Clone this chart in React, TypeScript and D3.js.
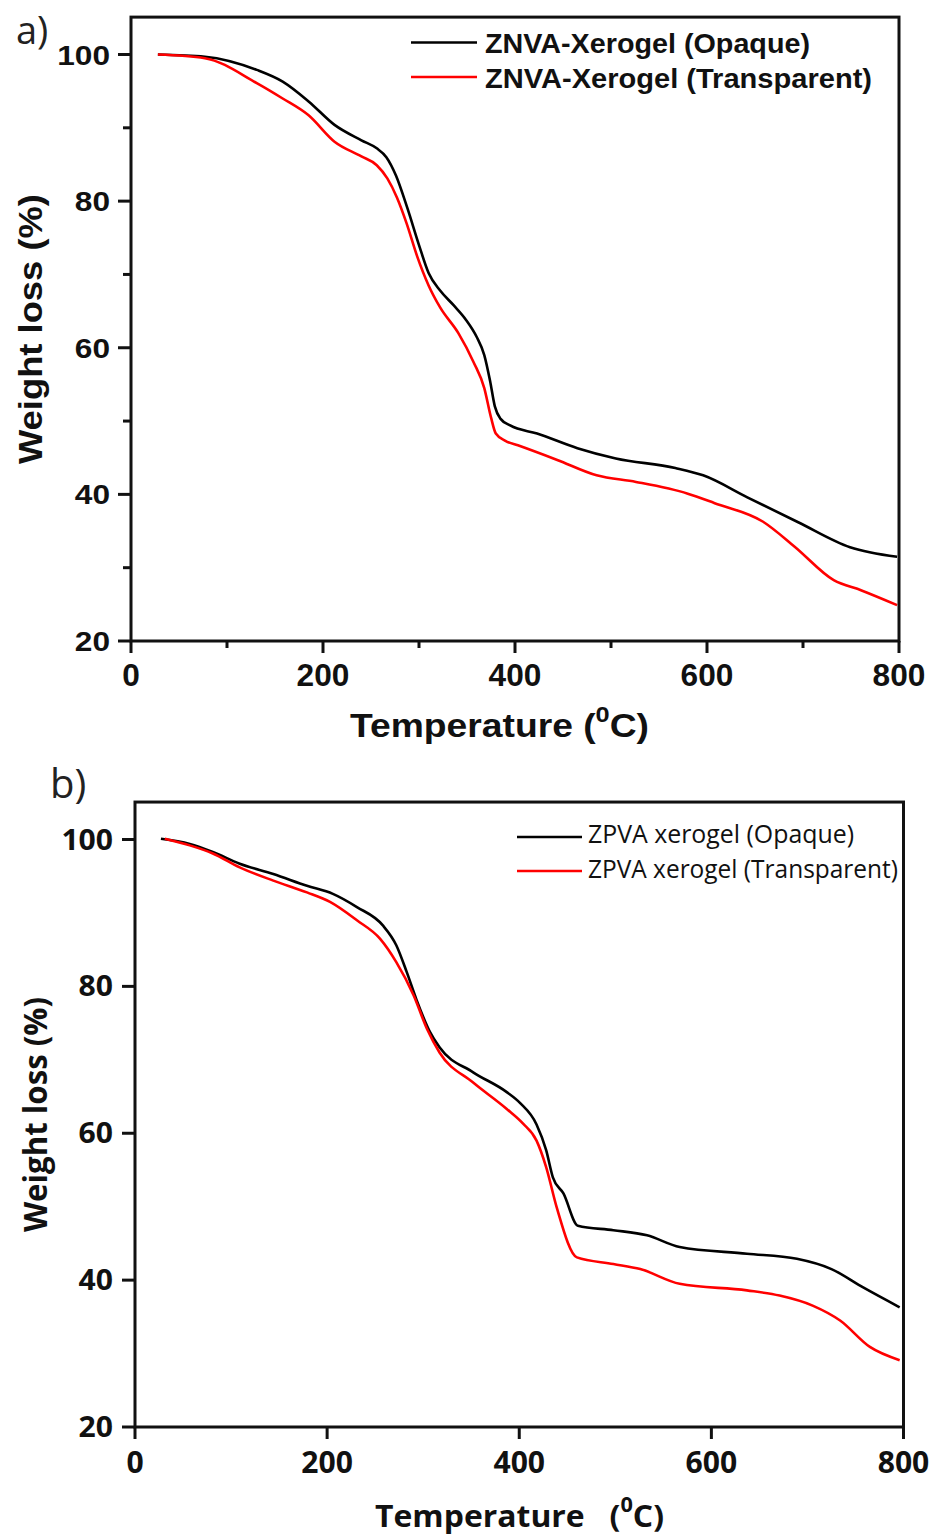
import React from "react";
import * as d3 from "d3";

// ---------- data (Temperature °C, Weight %) ----------
const aOpaque: [number, number][] = [
  [28, 100], [77, 99.7], [131, 97.9], [158, 96.3], [185, 93.6], [212, 90.4], [240, 88.3],
  [256, 87.2], [266, 86.0], [276, 83.5], [288, 79.0], [300, 74.0], [310, 70.2], [322, 67.8],
  [336, 65.8], [349, 63.8], [360, 61.5], [368, 59.0], [374, 55.5], [379, 52.0], [385, 50.3],
  [395, 49.4], [423, 48.3], [465, 46.3], [505, 44.9], [567, 43.6], [596, 42.6], [642, 39.6],
  [695, 36.2], [749, 32.8], [798, 31.5],
];
const aTransparent: [number, number][] = [
  [28, 100], [77, 99.5], [131, 96.1], [158, 94.0], [185, 91.7], [212, 88.1], [240, 86.1],
  [256, 84.9], [267, 83.1], [277, 80.5], [287, 77.0], [298, 72.5], [310, 68.5], [322, 65.5],
  [341, 62.0], [357, 58.0], [368, 54.5], [375, 50.5], [380, 48.3], [390, 47.3], [403, 46.7],
  [444, 44.7], [485, 42.6], [526, 41.7], [580, 40.1], [608, 38.8], [658, 36.3], [691, 32.9],
  [732, 28.3], [761, 26.9], [798, 24.9],
];
const bOpaque: [number, number][] = [
  [27, 100.1], [57, 99.4], [81, 98.3], [109, 96.7], [144, 95.3], [179, 93.7], [206, 92.6],
  [231, 90.8], [258, 88.3], [272, 85.6], [283, 81.9], [293, 78.2], [307, 73.8], [317, 71.7],
  [352, 68.3], [387, 65.6], [401, 64.1], [418, 61.2], [428, 57.7], [435, 54.0], [446, 51.8],
  [461, 47.4], [498, 46.8], [533, 46.1], [567, 44.5], [637, 43.6], [689, 42.9], [725, 41.5],
  [758, 39.0], [796, 36.3],
];
const bTransparent: [number, number][] = [
  [31, 100.1], [57, 99.2], [81, 98.1], [109, 96.2], [144, 94.4], [179, 92.8], [203, 91.5],
  [231, 89.0], [255, 86.5], [272, 83.3], [290, 78.8], [304, 74.2], [317, 71.0], [352, 66.9],
  [387, 63.3], [404, 61.3], [418, 59.0], [428, 55.4], [439, 49.9], [460, 43.1], [498, 42.2],
  [526, 41.5], [567, 39.5], [637, 38.6], [671, 37.9], [706, 36.5], [734, 34.5], [765, 30.9],
  [796, 29.1],
];

const xMajorTicks = [0, 200, 400, 600, 800];
const xMinorTicksA = [100, 300, 500, 700];
const yMajorTicks = [20, 40, 60, 80, 100];
const yMinorTicksA = [30, 50, 70, 90];

const legendA = ["ZNVA-Xerogel (Opaque)", "ZNVA-Xerogel (Transparent)"];
const legendB = ["ZPVA xerogel (Opaque)", "ZPVA xerogel (Transparent)"];
const yTitle = "Weight loss (%)";
const X_DOMAIN: [number, number] = [0, 800];
const Y_DOMAIN: [number, number] = [20, 100];
const Y_TOP = 105.1;

const ARIAL = "'Liberation Sans', Arial, sans-serif";
const MYRIAD = "'Open Sans', 'Noto Sans', sans-serif";

type PanelProps = {
  letter: string;
  letterX: number;
  letterY: number;
  letterSize: number;
  xRange: [number, number];
  yRange: [number, number];
  opaque: [number, number][];
  transparent: [number, number][];
  minorX: number[];
  minorY: number[];
  font: string;
  tickSize: number;
  digitW: number;
  yLabelRight: number;
  xLabelDy: number;
  legend: string[];
  legendX1: number;
  legendX2: number;
  legendTextX: number;
  legendY: [number, number];
  legendBase: [number, number];
  legendLen: [number, number];
  legendSize: number;
  legendWeight: string | number;
  xTitleX: number;
  xTitleY: number;
  xTitleLen: number;
  xTitleSize: number;
  xTitleText: string;
  yTitleX: number;
  yTitleLen: number;
  yTitleSize: number;
};

function Panel(p: PanelProps) {
  const x = d3.scaleLinear().domain(X_DOMAIN).range(p.xRange);
  const y = d3.scaleLinear().domain(Y_DOMAIN).range(p.yRange);
  const line = d3
    .line<[number, number]>()
    .x((d) => x(d[0]))
    .y((d) => y(d[1]))
    .curve(d3.curveMonotoneX);
  const left = x(0);
  const right = x(800);
  const bottom = y(20);
  const top = y(Y_TOP);
  const yMid = (y(Y_TOP) + y(20)) / 2;
  return (
    <g>
      <text x={p.letterX} y={p.letterY} fontFamily={MYRIAD} fontSize={p.letterSize} fill="#222">
        {p.letter}
      </text>
      {/* curves */}
      <path d={line(p.opaque) || ""} fill="none" stroke="#000" strokeWidth={2.6} />
      <path d={line(p.transparent) || ""} fill="none" stroke="#ff0000" strokeWidth={2.6} />
      {/* frame */}
      <rect
        x={left}
        y={top}
        width={right - left}
        height={bottom - top}
        fill="none"
        stroke="#111"
        strokeWidth={3}
      />
      {/* x ticks */}
      {xMajorTicks.map((t) => (
        <g key={"xt" + t}>
          <line x1={x(t)} x2={x(t)} y1={bottom} y2={bottom + 12} stroke="#111" strokeWidth={3} />
          <text
            x={x(t)}
            y={bottom + p.xLabelDy}
            textAnchor="middle"
            fontFamily={p.font}
            fontWeight="bold"
            fontSize={p.tickSize + 3}
            textLength={String(t).length * p.digitW}
            lengthAdjust="spacingAndGlyphs"
            fill="#111"
          >
            {t}
          </text>
        </g>
      ))}
      {p.minorX.map((t) => (
        <line key={"xm" + t} x1={x(t)} x2={x(t)} y1={bottom} y2={bottom + 7} stroke="#111" strokeWidth={3} />
      ))}
      {/* y ticks */}
      {yMajorTicks.map((t) => (
        <g key={"yt" + t}>
          <line x1={left - 13} x2={left} y1={y(t)} y2={y(t)} stroke="#111" strokeWidth={3} />
          <text
            x={p.yLabelRight}
            y={y(t) + 10}
            textAnchor="end"
            fontFamily={p.font}
            fontWeight="bold"
            fontSize={p.tickSize}
            textLength={String(t).length * p.digitW}
            lengthAdjust="spacingAndGlyphs"
            fill="#111"
          >
            {t}
          </text>
        </g>
      ))}
      {p.minorY.map((t) => (
        <line key={"ym" + t} x1={left - 8} x2={left} y1={y(t)} y2={y(t)} stroke="#111" strokeWidth={3} />
      ))}
      {/* legend */}
      {[0, 1].map((i) => (
        <g key={"lg" + i}>
          <line
            x1={p.legendX1}
            x2={p.legendX2}
            y1={p.legendY[i]}
            y2={p.legendY[i]}
            stroke={i === 0 ? "#000" : "#ff0000"}
            strokeWidth={2.4}
          />
          <text
            x={p.legendTextX}
            y={p.legendBase[i]}
            fontFamily={p.font}
            fontWeight={p.legendWeight}
            fontSize={p.legendSize}
            textLength={p.legendLen[i]}
            lengthAdjust="spacingAndGlyphs"
            fill="#111"
          >
            {p.legend[i]}
          </text>
        </g>
      ))}
      {/* x title */}
      <text
        x={p.xTitleX}
        y={p.xTitleY}
        fontFamily={p.font}
        fontWeight="bold"
        fontSize={p.xTitleSize}
        textLength={p.xTitleLen}
        lengthAdjust="spacingAndGlyphs"
        fill="#111"
        style={{ whiteSpace: "pre" }}
      >
        {p.xTitleText}
        <tspan dy={-15} fontSize={p.xTitleSize * 0.68}>
          0
        </tspan>
        <tspan dy={15}>C)</tspan>
      </text>
      {/* y title */}
      <text
        transform={`translate(${p.yTitleX},${yMid}) rotate(-90)`}
        textAnchor="middle"
        fontFamily={p.font}
        fontWeight="bold"
        fontSize={p.yTitleSize}
        textLength={p.yTitleLen}
        lengthAdjust="spacingAndGlyphs"
        fill="#111"
      >
        {yTitle}
      </text>
    </g>
  );
}

export default function App() {
  return (
    <svg
      width={934}
      height={1538}
      viewBox="0 0 934 1538"
      style={{ position: "absolute", left: 0, top: 0, background: "#fff" }}
    >
      <rect x={0} y={0} width={934} height={1538} fill="#fff" />
      <Panel
        letter="a)"
        letterX={16}
        letterY={44}
        letterSize={38}
        xRange={[131, 899]}
        yRange={[641, 54.5]}
        opaque={aOpaque}
        transparent={aTransparent}
        minorX={xMinorTicksA}
        minorY={yMinorTicksA}
        font={ARIAL}
        tickSize={28}
        digitW={17.6}
        yLabelRight={110}
        xLabelDy={45}
        legend={legendA}
        legendX1={411}
        legendX2={477}
        legendTextX={485}
        legendY={[42.5, 77]}
        legendBase={[53, 88]}
        legendLen={[325, 387]}
        legendSize={27}
        legendWeight="bold"
        xTitleX={350}
        xTitleY={737}
        xTitleLen={299}
        xTitleSize={33}
        xTitleText="Temperature ("
        yTitleX={42}
        yTitleLen={270}
        yTitleSize={33}
      />
      <Panel
        letter="b)"
        letterX={50}
        letterY={798}
        letterSize={40}
        xRange={[135, 903.5]}
        yRange={[1427, 839.5]}
        opaque={bOpaque}
        transparent={bTransparent}
        minorX={[]}
        minorY={[]}
        font={MYRIAD}
        tickSize={28}
        digitW={17.2}
        yLabelRight={113}
        xLabelDy={46}
        legend={legendB}
        legendX1={517}
        legendX2={582}
        legendTextX={588}
        legendY={[837, 871]}
        legendBase={[843, 878]}
        legendLen={[266, 310]}
        legendSize={25}
        legendWeight="normal"
        xTitleX={375}
        xTitleY={1527}
        xTitleLen={289}
        xTitleSize={31}
        xTitleText={"Temperature   ("}
        yTitleX={47}
        yTitleLen={235}
        yTitleSize={33}
      />
    </svg>
  );
}
